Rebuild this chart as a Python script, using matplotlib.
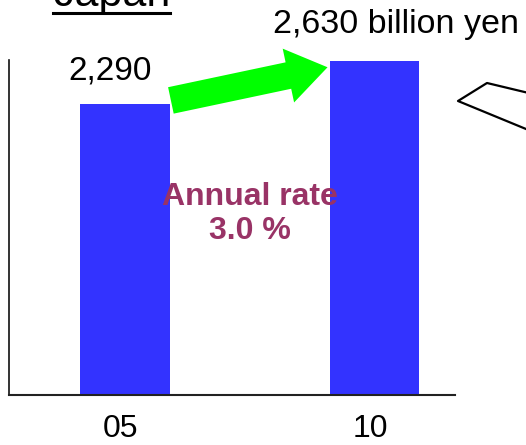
import matplotlib
matplotlib.use("Agg")
import matplotlib.pyplot as plt
from matplotlib.patches import FancyArrow
from matplotlib.lines import Line2D
from matplotlib.transforms import IdentityTransform, ScaledTranslation

plt.rcParams['font.family'] = ['Liberation Sans', 'DejaVu Sans']

# Market size in Japan (billion yen)
years = ["05", "10"]
sales = [2290, 2630]
value_labels = ["2,290", "2,630 billion yen"]
growth_text = "Annual rate\n3.0 %"

W, H = 526, 445
fig = plt.figure(figsize=(W / 100, H / 100), dpi=100)
fig.patch.set_facecolor("white")

ax = fig.add_axes([9 / W, 50 / H, 446 / W, 335 / H])
x = list(range(len(years)))
bar_w = 0.36
ax.bar(x, sales, width=bar_w, color="#3333ff", zorder=2)

ax.set_xlim(-0.465, 1.323)
ax.set_ylim(0, 2640)
ax.set_yticks([])
ax.set_xticks(x)
ax.set_xticklabels(years, fontsize=23)
ax.tick_params(axis="x", length=0, pad=14)
shift = ScaledTranslation(-4 / 100, 0, fig.dpi_scale_trans)
for lbl in ax.get_xticklabels():
    lbl.set_transform(lbl.get_transform() + shift)
for side in ["top", "right"]:
    ax.spines[side].set_visible(False)
ax.spines["left"].set_linewidth(1.2)
ax.spines["bottom"].set_linewidth(1.5)
ax.spines["left"].set_color("#111111")
ax.spines["bottom"].set_color("#222222")
ax.set_facecolor("none")

# value labels above the bars
ax.annotate(value_labels[0], xy=(x[0], sales[0]), xytext=(-15, 25),
            textcoords="offset pixels", ha="center", va="baseline", fontsize=24)
ax.annotate(value_labels[1], xy=(x[1], sales[1]), xytext=(-101, 28),
            textcoords="offset pixels", ha="left", va="baseline", fontsize=24.5)

# growth rate between the bars
ax.text(0.5, 0.54, growth_text, transform=ax.get_xaxis_transform(),
        ha="center", va="center", multialignment="center", fontsize=23,
        fontweight="bold", color="#993366", linespacing=1.2, zorder=5)

# green arrow from first bar top to second bar top
tail = ax.transData.transform((x[0] + bar_w / 2, sales[0]))
tip = ax.transData.transform((x[1] - bar_w / 2, sales[1]))
tail = (tail[0] + 1, tail[1] + 4)
tip = (tip[0] - 2, tip[1] - 6)
arrow = FancyArrow(tail[0], tail[1], tip[0] - tail[0], tip[1] - tail[1],
                   width=27, head_width=55, head_length=40,
                   length_includes_head=True, color="#00ff00", lw=0,
                   transform=IdentityTransform(), zorder=4)
fig.patches.append(arrow)

# underlined heading, mostly above the top edge
fig.text(53 / W, 1 - 6 / H, "Japan", fontsize=31, ha="left", va="baseline")
fig.add_artist(Line2D([53 / W, 170 / W], [1 - 13 / H, 1 - 13 / H],
                      color="black", lw=2.2, transform=fig.transFigure))

# edge of a callout shape at the right
px = [560, 487, 458, 560]
py = [100.5, 83, 101, 143]
fig.add_artist(Line2D([p / W for p in px], [1 - p / H for p in py],
                      color="black", lw=1.6, transform=fig.transFigure))

fig.savefig("out.png", dpi=100)
